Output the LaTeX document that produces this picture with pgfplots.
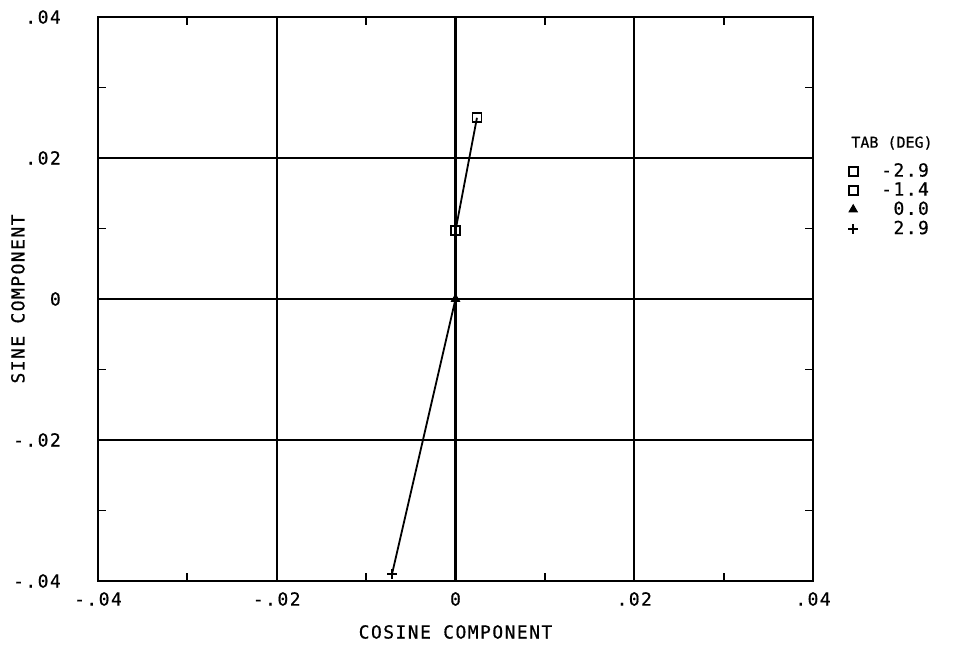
\documentclass[border=0pt]{standalone}
\usepackage{pgfplots}
\pgfplotsset{compat=1.18}
\usepackage{fontspec}
\setmainfont{DejaVu Sans Mono}[LetterSpace=8, FakeBold=0.6]
\begin{document}
\fontsize{18}{21}\selectfont
\begin{tikzpicture}
\begin{axis}[
  scale only axis,
  width=715pt, height=564pt,
  xmin=-0.04, xmax=0.04, ymin=-0.04, ymax=0.04,
  xtick={-0.04,-0.02,0,0.02,0.04},
  ytick={-0.04,-0.02,0,0.02,0.04},
  xticklabels={-.04,-.02,0,.02,.04},
  yticklabels={-.04,-.02,0,.02,.04},
  minor xtick={-0.03,-0.01,0.01,0.03},
  minor ytick={-0.03,-0.01,0.01,0.03},
  tick align=inside,
  major tick length=0pt,
  minor tick length=8pt,
  every tick/.style={black, line width=1.8pt},
  grid=major,
  major grid style={black, line width=1.8pt},
  axis line style={black, line width=1.9pt},
  scaled ticks=false,
  xticklabel style={yshift=-5pt},
  yticklabel style={xshift=-31pt},
  xlabel={COSINE COMPONENT},
  ylabel={SINE COMPONENT},
  xlabel style={at={(axis description cs:0.5,0)}, anchor=center, yshift=-51pt},
  ylabel style={at={(axis description cs:-0.112,0.5)}, anchor=center},
  legend style={draw=none, fill=none, at={(axis description cs:1,1)}, anchor=north west,
    xshift=32pt, yshift=-142pt, row sep=-0.8pt,
    /tikz/every odd column/.append style={column sep=21pt}},
  legend cell align=right,
]
\addplot[black, line width=2.4pt, mark=none, forget plot] coordinates {(0,-0.04) (0,0.04)};
\addplot[black, line width=1.8pt, mark=none, forget plot] coordinates {(0.0024,0.0257) (0,0.0097) (0,0) (-0.0071,-0.0390)};
\addplot[black, only marks, mark=square, mark size=4.5pt, mark options={line width=1.8pt, fill=white}] coordinates {(0.0024,0.0257)};
\addlegendentry{-2.9}
\addplot[black, only marks, mark=square, mark size=4.5pt, mark options={line width=1.8pt, fill=white, rounded corners=2pt}] coordinates {(0,0.0097)};
\addlegendentry{-1.4}
\addplot[black, only marks, mark=triangle*, mark size=4.5pt, mark options={line width=1.2pt, fill=black}] coordinates {(0,0)};
\addlegendentry{0.0}
\addplot[black, only marks, mark=+, mark size=5pt, mark options={line width=2pt}] coordinates {(-0.0071,-0.0390)};
\addlegendentry{2.9}
\end{axis}
\node[font={\fontsize{15}{18}\selectfont\addfontfeatures{LetterSpace=0}}] at ([xshift=79pt, yshift=-126pt]current axis.north east) {TAB (DEG)};
\path ([xshift=-98pt, yshift=-85pt]current axis.south west) rectangle ([xshift=161pt, yshift=17pt]current axis.north east);
\end{tikzpicture}
\end{document}
